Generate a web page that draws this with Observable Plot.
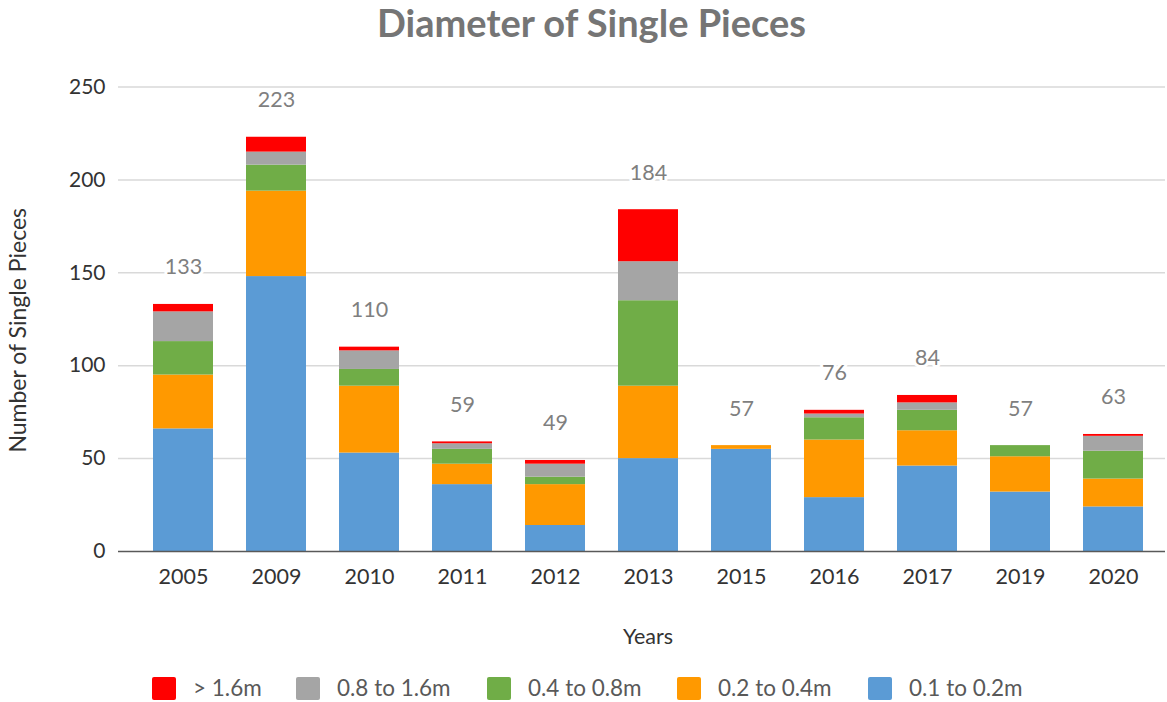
<!DOCTYPE html>
<html>
<head>
<meta charset="utf-8">
<script src="https://cdn.jsdelivr.net/npm/d3@7"></script>
<script src="https://cdn.jsdelivr.net/npm/@observablehq/plot@0.6"></script>
<style>
  html, body { margin: 0; padding: 0; background: #fff; }
  body { width: 1167px; height: 702px; overflow: hidden; font-family: Lato, "Open Sans", sans-serif; }
  #title { height: 58px; position: relative; }
  #title span { position: absolute; left: 0; width: 1183px; text-align: center; top: -1px; font-weight: bold; font-size: 38px; color: #757575; }
  #chart svg { display: block; }
  #legend { position: relative; height: 44px; }
  .sw { position: absolute; width: 24px; height: 23px; top: 19px; border-radius: 2px; }
  .lt { position: absolute; top: 16px; font-size: 22.5px; color: #595959; white-space: nowrap; line-height: 28px; }
</style>
</head>
<body>
<div id="title"><span>Diameter of Single Pieces</span></div>
<div id="chart"></div>
<div id="legend"></div>
<script>
// ---- data ----
const years = ["2005","2009","2010","2011","2012","2013","2015","2016","2017","2019","2020"];
const series = ["0.1 to 0.2m","0.2 to 0.4m","0.4 to 0.8m","0.8 to 1.6m","> 1.6m"];
const d01to02 = [66,148,53,36,14,50,55,29,46,32,24];
const d02to04 = [29,46,36,11,22,39,2,31,19,19,15];
const d04to08 = [18,14,9,8,4,46,0,12,11,6,15];
const d08to16 = [16,7,10,3,7,21,0,2,4,0,8];
const dOver16 = [4,8,2,1,2,28,0,2,4,0,1];
const totals = [133,223,110,59,49,184,57,76,84,57,63];
const yTicks = [0,50,100,150,200,250];
const colors = ["#5B9BD5","#FF9900","#70AD47","#A5A5A5","#FF0000"];
const legendOrder = ["> 1.6m","0.8 to 1.6m","0.4 to 0.8m","0.2 to 0.4m","0.1 to 0.2m"];

const seriesValues = [d01to02, d02to04, d04to08, d08to16, dOver16];
const rows = [];
series.forEach((s, si) => years.forEach((y, yi) => rows.push({year: y, series: s, value: seriesValues[si][yi]})));
const labelRows = years.map((y, i) => ({year: y, total: totals[i]}));

const font = "Lato, 'Open Sans', sans-serif";
const chart = Plot.plot({
  width: 1167,
  height: 600,
  marginLeft: 118,
  marginRight: 2,
  marginTop: 28.6,
  marginBottom: 107,
  style: {fontFamily: font, background: "white", overflow: "visible"},
  x: {type: "band", domain: years, paddingInner: 0.356, paddingOuter: 0.178, insetLeft: 17.4, insetRight: 4.4},
  y: {domain: [0, 250]},
  color: {domain: series, range: colors},
  marks: [
    Plot.ruleY(yTicks.filter(d => d > 0), {stroke: "#d9d9d9", strokeWidth: 1.5}),
    Plot.barY(rows, {x: "year", y: "value", fill: "series"}),
    Plot.ruleY([0], {stroke: "#595959", strokeWidth: 1.5}),
    Plot.axisX({tickSize: 0, tickPadding: 17, fontSize: 21.5, color: "#333", label: null}),
    Plot.axisY({ticks: yTicks, tickSize: 0, tickPadding: 13, fontSize: 21, color: "#333", label: null}),
    Plot.text(labelRows, {x: "year", y: "total", text: d => String(d.total), dy: -37, fontSize: 21.5, fill: "#7f7f7f", stroke: "white", strokeWidth: 6, paintOrder: "stroke", lineAnchor: "middle"}),
    Plot.text(["Years"], {frameAnchor: "bottom", dx: 6, dy: 86, fontSize: 21.5, fill: "#333", lineAnchor: "middle"}),
    Plot.text(["Number of Single Pieces"], {frameAnchor: "left", dx: -100, dy: 11, rotate: -90, textAnchor: "middle", fontSize: 23, fill: "#333", lineAnchor: "middle"})
  ]
});
document.getElementById("chart").appendChild(chart);

// ---- legend ----
const legendX = [152, 296, 487, 677, 868];
const leg = document.getElementById("legend");
legendOrder.forEach((name, i) => {
  const sw = document.createElement("div");
  sw.className = "sw";
  sw.style.left = legendX[i] + "px";
  sw.style.background = colors[series.indexOf(name)];
  leg.appendChild(sw);
  const t = document.createElement("div");
  t.className = "lt";
  t.style.left = (legendX[i] + 41) + "px";
  t.textContent = name;
  leg.appendChild(t);
});
</script>
</body>
</html>
